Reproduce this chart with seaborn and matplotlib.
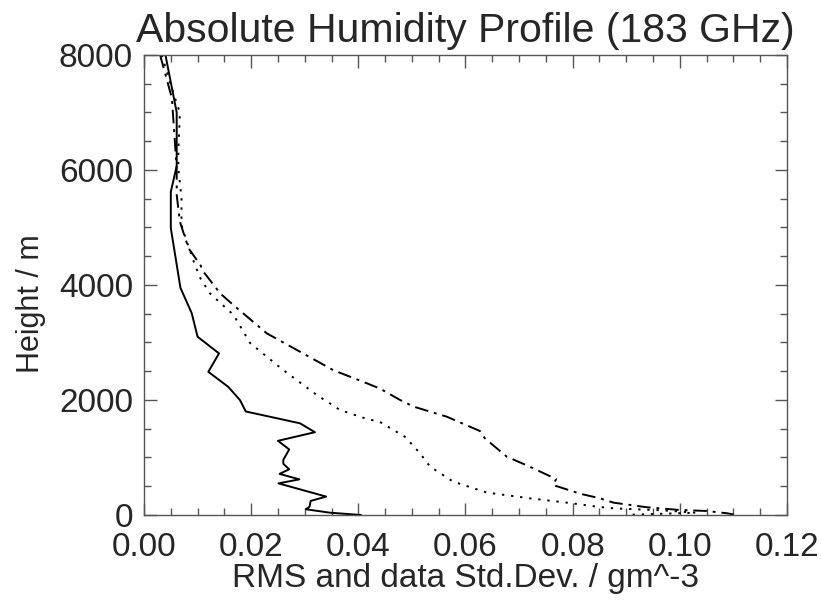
import matplotlib
matplotlib.use("Agg")
import matplotlib.pyplot as plt
import seaborn as sns
from matplotlib.ticker import MultipleLocator, FormatStrFormatter

# RMS (solid)
rms_x = [0.0040, 0.0061, 0.0061, 0.0050, 0.0050, 0.0068, 0.0089, 0.0100, 0.0140, 0.0120,
         0.0157, 0.0179, 0.0190, 0.0291, 0.0319, 0.0250, 0.0271, 0.0260, 0.0260, 0.0271,
         0.0253, 0.0290, 0.0251, 0.0340, 0.0311, 0.0309, 0.0302, 0.0347, 0.0405]
rms_h = [8000, 7000, 6070, 5620, 4990, 3950, 3510, 3100, 2810, 2490,
         2230, 2000, 1800, 1595, 1440, 1290, 1140, 960, 890, 795,
         715, 620, 550, 320, 245, 145, 100, 40, 0]

# data std dev (dash-dot)
std1_x = [0.0030, 0.0052, 0.0061, 0.0061, 0.0067, 0.0083, 0.0105, 0.0111, 0.0142, 0.0167,
          0.0229, 0.0291, 0.0353, 0.0416, 0.0440, 0.0478, 0.0503, 0.0565, 0.0627, 0.0636,
          0.0677, 0.0720, 0.0769, 0.0764, 0.0814, 0.0851, 0.0876, 0.0938, 0.1000, 0.1050,
          0.1088, 0.1100]
std1_h = [8000, 7250, 6030, 5565, 5100, 4640, 4350, 4230, 3855, 3650,
          3160, 2840, 2520, 2290, 2200, 2000, 1885, 1710, 1460, 1335,
          1015, 840, 625, 520, 370, 290, 215, 135, 87, 70,
          30, 10]

# second std dev (dotted)
std2_x = [0.0033, 0.0052, 0.0067, 0.0064, 0.0064, 0.0070, 0.0070, 0.0080, 0.0095, 0.0105,
          0.0123, 0.0167, 0.0198, 0.0260, 0.0322, 0.0366, 0.0416, 0.0440, 0.0487, 0.0515,
          0.0534, 0.0577, 0.0640, 0.0720, 0.0789, 0.0845, 0.0876, 0.0969, 0.1030, 0.0910]
std2_h = [8000, 7420, 6990, 6320, 6030, 5510, 5040, 4750, 4350, 4120,
          3855, 3480, 2990, 2520, 2090, 1825, 1670, 1620, 1360, 1075,
          840, 580, 390, 290, 215, 145, 116, 80, 40, 5]

sns.set_style("ticks")
plt.rcParams["font.family"] = ["Liberation Sans", "DejaVu Sans"]

fig = plt.figure(figsize=(8.22, 6.01), dpi=100)
ax = fig.add_axes([0.1752, 0.1431, 0.7822, 0.7654])

sns.lineplot(x=rms_x, y=rms_h, sort=False, estimator=None, color="black", lw=1.4, ax=ax)
sns.lineplot(x=std1_x, y=std1_h, sort=False, estimator=None, color="black", lw=1.4,
             linestyle=(0, (7, 3, 1.5, 3)), ax=ax)
sns.lineplot(x=std2_x, y=std2_h, sort=False, estimator=None, color="black", lw=1.4,
             linestyle=(0, (1.2, 3.5)), ax=ax)

ax.set_xlim(0, 0.12)
ax.set_ylim(0, 8000)
ax.xaxis.set_major_locator(MultipleLocator(0.02))
ax.xaxis.set_minor_locator(MultipleLocator(0.005))
ax.yaxis.set_major_locator(MultipleLocator(2000))
ax.yaxis.set_minor_locator(MultipleLocator(500))
ax.xaxis.set_major_formatter(FormatStrFormatter("%.2f"))

ax.tick_params(which="both", direction="in", top=True, right=True, color="#555555",
               labelsize=24)
ax.tick_params(which="major", length=9, width=1)
ax.tick_params(which="minor", length=5, width=1)
ax.tick_params(axis="x", pad=12)
ax.tick_params(axis="y", pad=8)
for s in ax.spines.values():
    s.set_visible(True)
    s.set_color("#555555")
    s.set_linewidth(1)

ax.set_title("Absolute Humidity Profile (183 GHz)", fontsize=29.5, pad=9)
ax.set_xlabel("RMS and data Std.Dev. / gm^-3", fontsize=24)
ax.xaxis.set_label_coords(0.5, -0.105)
ax.set_ylabel("Height / m", fontsize=22)
ax.yaxis.set_label_coords(-0.152, 0.46)

fig.savefig("out.png", dpi=100)
